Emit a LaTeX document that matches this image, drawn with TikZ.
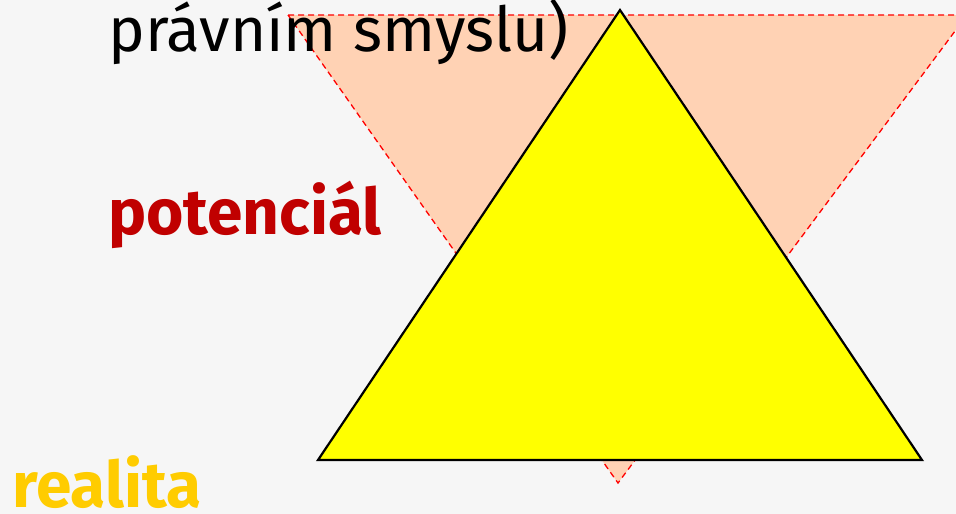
\documentclass[tikz,border=0pt]{standalone}
\usepackage{fontspec}
\setmainfont{Fira Sans}
\definecolor{pozadi}{HTML}{F6F6F6}
\definecolor{broskev}{HTML}{FFD2B4}
\definecolor{tmavacervena}{HTML}{C00000}
\definecolor{zlata}{HTML}{FFCC00}
\definecolor{zluta}{HTML}{FFFF00}

\begin{document}
\begin{tikzpicture}[x=1pt,y=-1pt,popis/.style={anchor=base west,inner sep=0pt,font=\fontsize{62}{64}\selectfont},tucny/.style={popis,font=\fontsize{64}{66}\selectfont\bfseries},obrys/.style={draw=red,line width=1.3pt,dash pattern=on 6pt off 4pt}]
\useasboundingbox (0,0) rectangle (956,514);
\clip (0,0) rectangle (956,514);
\fill[pozadi] (0,0) rectangle (956,514);
% obraceny trojuhelnik
\coordinate (hl) at (288,15);
\coordinate (hp) at (967,15);
\coordinate (dd) at (618,483);
\filldraw[obrys,fill=broskev] (hl)--(hp)--(dd)--cycle;
% texty
\node[popis] (pravni) at (108,51) {právním smyslu)};
\node[tucny,text=tmavacervena] (potencial) at (108,234) {potenciál};
\node[tucny,text=zlata] (realita) at (12,507) {realita};
% zluty trojuhelnik
\coordinate (vrchol) at (620,10);
\coordinate (zl) at (318,460);
\coordinate (zp) at (922,460);
\filldraw[fill=zluta,draw=black,line width=2.2pt,line join=miter] (vrchol)--(zp)--(zl)--cycle;
\end{tikzpicture}
\end{document}
